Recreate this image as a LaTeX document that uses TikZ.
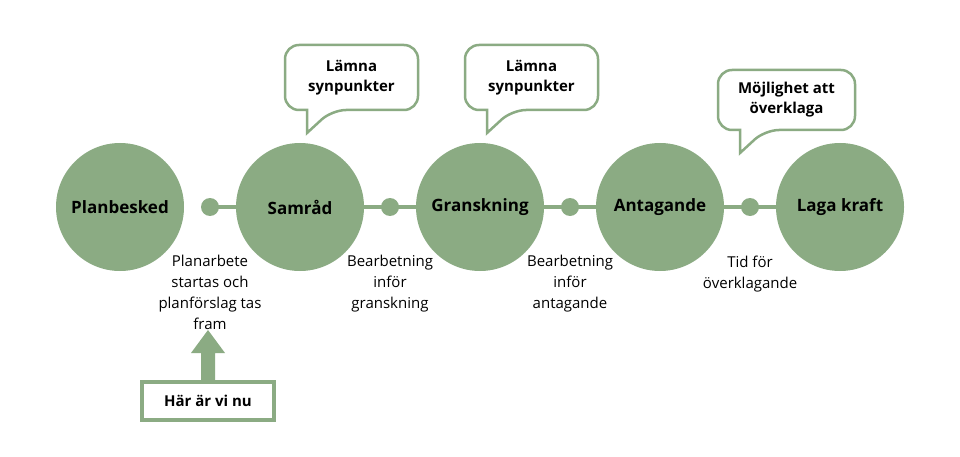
\documentclass[tikz,border=0pt]{standalone}
\usepackage{fontspec}
\setmainfont{Open Sans}
\usetikzlibrary{positioning,calc}
\definecolor{sage}{RGB}{139,171,131}
\tikzset{
  phase/.style={circle,fill=sage,minimum size=128pt,inner sep=0pt,font=\bfseries\fontsize{17}{20}\selectfont},
  dot/.style={circle,fill=sage,minimum size=18pt,inner sep=0pt},
  note/.style={align=center,anchor=north,font=\fontsize{15}{21}\selectfont},
  bubbletext/.style={align=center,font=\bfseries\fontsize{15}{20}\selectfont},
  bubble/.style={draw=sage,line width=2.5pt,fill=white,rounded corners=14pt},
  herebox/.style={draw=sage,line width=4pt,fill=white,minimum width=132pt,minimum height=38pt,font=\bfseries\fontsize{15}{18}\selectfont}
}
% speech bubble: #1 name, #2/#3 top-left, #4/#5 bottom-right, #6 text
\newcommand{\speech}[6]{%
  \draw[bubble] (#2+22,#5) -- (#2,#5) -- (#2,#3) -- (#4,#3) -- (#4,#5) -- (#2+47,#5)
    [sharp corners] -- (#2+22,#5+23) -- cycle;
  \node[bubbletext] (#1) at ({(#2+#4)/2},{(#3+#5)/2}) {#6};}
\begin{document}
\begin{tikzpicture}[x=1pt,y=-1pt]
    \useasboundingbox (0,0) rectangle (960,457);
    % the timeline
    \node[dot] (d1) at (210,207) {};
    \node[dot] (d2) at (390,207) {};
    \node[dot] (d3) at (570,207) {};
    \node[dot] (d4) at (750,207) {};
    \node (end) at (840,207) {};
    \draw[sage,line width=4pt] (d1.center) -- (end.center);
    \node[phase] (plan) at (120,207) {Planbesked};
    \node[phase] (samrad) at (300,207) {Samråd};
    \node[phase] (gransk) at (480,207) {Granskning};
    \node[phase] (antag) at (660,207) {Antagande};
    \node[phase] (laga) at (840,207) {Laga kraft};
    % notes under the dots
    \node[note] (n1) at (210,252) {Planarbete\\startas och\\planförslag tas\\fram};
    \node[note] (n2) at (390,252) {Bearbetning\\inför\\granskning};
    \node[note] (n3) at (570,252) {Bearbetning\\inför\\antagande};
    \node[note] (n4) at (750,252) {Tid för\\överklagande};
    % speech bubbles
    \speech{b1}{285}{45}{418}{110}{Lämna\\synpunkter}
    \speech{b2}{465}{45}{598}{110}{Lämna\\synpunkter}
    \speech{b3}{718}{70}{855}{130}{Möjlighet att\\överklaga}
    % where we are
    \node[herebox] (here) at (208,401) {Här är vi nu};
    \fill[sage] ($(here.north)+(-7,0)$) -- ++(0,-27) -- ++(-10,0) -- ($(here.north)+(0,-50)$)
      -- ++(17,23) -- ++(-10,0) -- ($(here.north)+(7,0)$) -- cycle;
\end{tikzpicture}
\end{document}
